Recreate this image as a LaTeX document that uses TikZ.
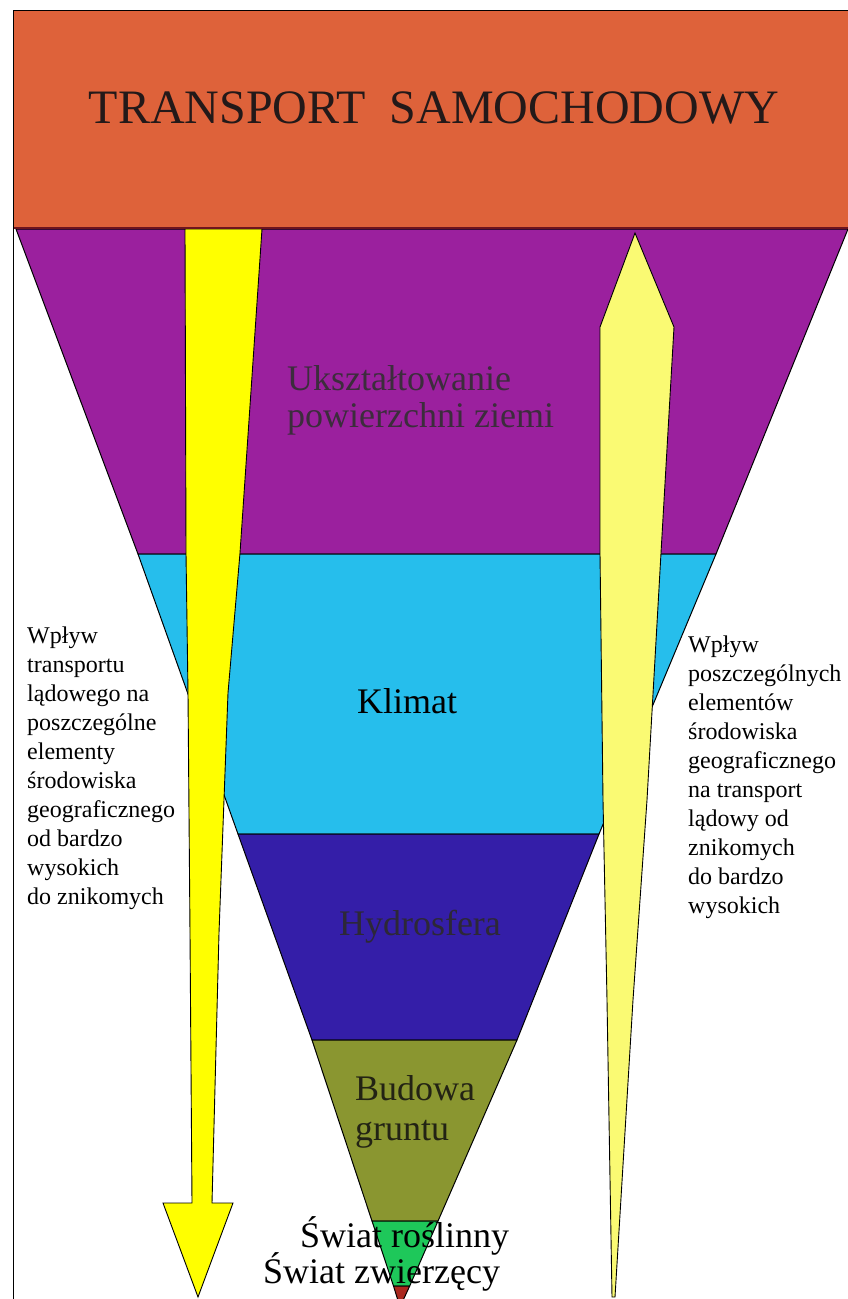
\documentclass[tikz,border=0pt]{standalone}
\usepackage{fontspec}
\setmainfont{Liberation Serif}
\definecolor{bannercol}{RGB}{222,98,58}
\definecolor{bannerline}{RGB}{110,20,30}
\definecolor{purpleband}{RGB}{155,32,158}
\definecolor{cyanband}{RGB}{38,190,236}
\definecolor{blueband}{RGB}{52,30,168}
\definecolor{oliveband}{RGB}{138,150,48}
\definecolor{greenband}{RGB}{30,200,90}
\definecolor{redtip}{RGB}{170,40,30}
\definecolor{yelA}{RGB}{255,255,0}
\definecolor{yelB}{RGB}{250,250,115}
\definecolor{dimtext}{RGB}{60,45,60}
\definecolor{titletext}{RGB}{35,25,25}
\definecolor{hydrotext}{RGB}{45,40,55}
\definecolor{grunttext}{RGB}{35,35,20}
\begin{document}
\begin{tikzpicture}[x=1pt,y=-1pt,
  band/.style={draw=black,line width=1pt,line join=round},
  yarrow/.style={draw=black,line width=0.9pt,line join=miter},
  bandlabel/.style={inner sep=0pt,font=\fontsize{36}{37}\selectfont},
  sidelabel/.style={inner sep=0pt,align=left,anchor=north west,font=\fontsize{24}{29}\selectfont}]
\useasboundingbox (0,0) rectangle (848,1299);
\fill[white] (0,0) rectangle (848,1299);
\begin{scope}
\clip (0,0) rectangle (848,1299);
% bands of the inverted triangle
\path[band,fill=purpleband] (16,229) -- (848,229) -- (716,554) -- (138,554) -- cycle;
\path[band,fill=cyanband] (138,554) -- (716,554) -- (599,834) -- (238,834) -- cycle;
\path[band,fill=blueband] (238,834) -- (599,834) -- (517,1040) -- (312,1040) -- cycle;
\path[band,fill=oliveband] (312,1040) -- (517,1040) -- (438,1221) -- (372,1221) -- cycle;
\path[band,fill=greenband] (372,1221) -- (438,1221) -- (409.7,1286) -- (393.5,1286) -- cycle;
\path[band,fill=redtip] (393.5,1286) -- (409.7,1286) -- (400,1307) -- cycle;
% arrows
\path[yarrow,fill=yelA] (185,229) -- (262,229) -- (240,553) -- (228,693) -- (219,933) -- (212,1203) -- (233,1203) -- (198,1297) -- (163,1203) -- (192,1203) -- (190,933) -- (188,693) -- (186,553) -- cycle;
\path[yarrow,fill=yelB] (635,233) -- (674,327) -- (661,553) -- (647,800) -- (633,1000) -- (615,1297) -- (612,1297) -- (607,1000) -- (603,800) -- (600,553) -- (600,327) -- cycle;
\end{scope}
% banner
\fill[bannercol] (13,10) rectangle (848,228);
\draw[black,line width=1pt] (13,10) -- (848,10);
\draw[bannerline,line width=1.2pt] (13,228) -- (848,228);
\draw[black,line width=0.8pt] (13,10) -- (13,1299);
% texts
\node[inner sep=0pt,anchor=base,font=\fontsize{48}{50}\selectfont,text=titletext] (title) at (434,123) {TRANSPORT\ \ SAMOCHODOWY};
\node[bandlabel,align=left,anchor=north west,text=dimtext] (relief) at (287,365) {Ukształtowanie\\powierzchni ziemi};
\node[bandlabel,anchor=base,text=black] (klimat) at (407,713) {Klimat};
\node[bandlabel,anchor=base,text=hydrotext] (hydro) at (420,935) {Hydrosfera};
\node[bandlabel,align=left,anchor=north west,text=grunttext,font=\fontsize{36}{40}\selectfont] (grunt) at (355,1075.4) {Budowa\\gruntu};
\node[bandlabel,anchor=base west] (rosl) at (300,1247) {Świat roślinny};
\node[bandlabel,anchor=base west] (zwierz) at (263,1283) {Świat zwierzęcy};
\node[sidelabel] (lefttext) at (27,626.6) {Wpływ\\transportu\\lądowego na\\poszczególne\\elementy\\środowiska\\geograficznego\\od bardzo\\wysokich\\do znikomych};
\node[sidelabel] (righttext) at (688,635.6) {Wpływ\\poszczególnych\\elementów\\środowiska\\geograficznego\\na transport\\lądowy od\\znikomych\\do bardzo\\wysokich};
\end{tikzpicture}
\end{document}
